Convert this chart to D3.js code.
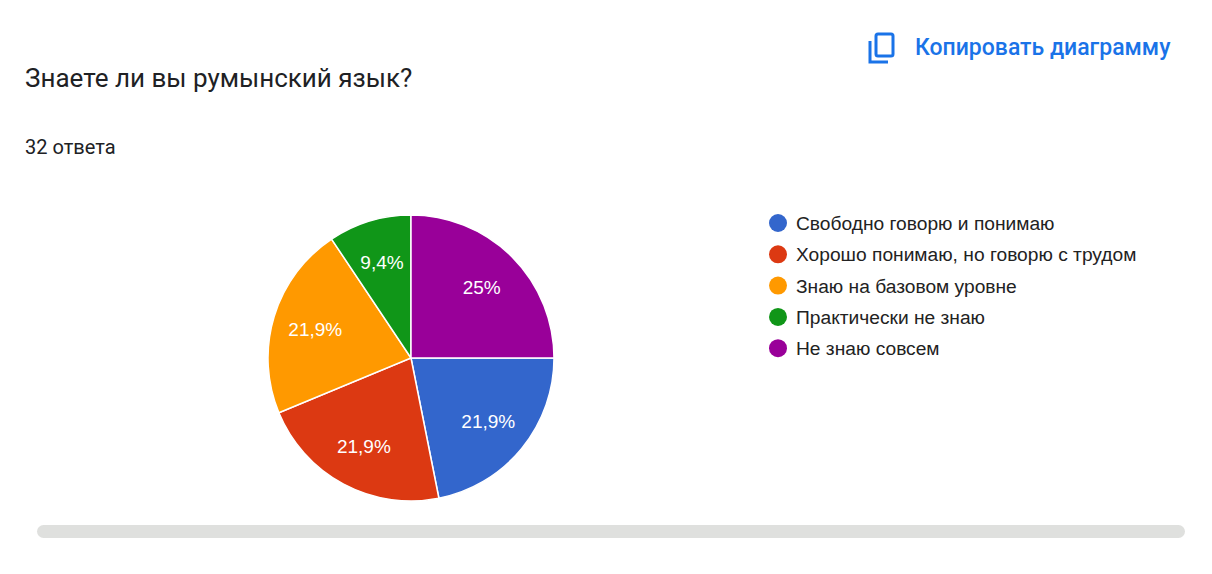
<!DOCTYPE html>
<html>
<head>
<meta charset="utf-8">
<script src="https://cdn.jsdelivr.net/npm/d3@7"></script>
<style>
  html, body { margin: 0; padding: 0; background: #fff; }
  svg { display: block; }
</style>
</head>
<body>
<div id="chart"></div>
<script>
(function () {
    'use strict';

    // ── data ──────────────────────────────────────────────────────────────
    const categories = [
        'Свободно говорю и понимаю',
        'Хорошо понимаю, но говорю с трудом',
        'Знаю на базовом уровне',
        'Практически не знаю',
        'Не знаю совсем'
    ];
    const counts = [7, 7, 7, 3, 8];
    const sliceLabels = ['21,9%', '21,9%', '21,9%', '9,4%', '25%'];
    const colors = ['#3366cc', '#dc3912', '#ff9900', '#109618', '#990099'];

    const title = 'Знаете ли вы румынский язык?';
    const subtitle = '32 ответа';
    const copyText = 'Копировать диаграмму';

    const W = 1212, H = 574;
    const cx = 411, cy = 358, R = 143;

    const svg = d3.select('#chart').append('svg')
        .attr('width', W).attr('height', H);

    // ── header ────────────────────────────────────────────────────────────
    svg.append('text')
        .attr('x', 25).attr('y', 87)
        .style('font-family', 'Roboto, sans-serif')
        .style('font-size', '26px')
        .style('fill', '#202124')
        .text(title);

    svg.append('text')
        .attr('x', 25).attr('y', 154)
        .style('font-family', 'Roboto, sans-serif')
        .style('font-size', '20px')
        .style('fill', '#202124')
        .text(subtitle);

    // copy icon
    const icon = svg.append('g').attr('fill', 'none')
        .attr('stroke', '#1a73e8').attr('stroke-width', 3);
    icon.append('rect')
        .attr('x', 876).attr('y', 34).attr('width', 17).attr('height', 22)
        .attr('rx', 2);
    icon.append('path')
        .attr('d', 'M870,41 V62 H888');

    svg.append('text')
        .attr('x', 915).attr('y', 55)
        .style('font-family', 'Roboto, sans-serif')
        .style('font-weight', 500)
        .style('font-size', '23px')
        .style('fill', '#1a73e8')
        .text(copyText);

    // ── pie ───────────────────────────────────────────────────────────────
    const pie = d3.pie().sort(null)
        .startAngle(Math.PI / 2)
        .endAngle(Math.PI / 2 + 2 * Math.PI);
    const arcs = pie(counts);

    const arc = d3.arc().innerRadius(0).outerRadius(R);
    const labelArc = d3.arc().innerRadius(100).outerRadius(100);

    const g = svg.append('g').attr('transform', `translate(${cx},${cy})`);

    g.selectAll('path')
        .data(arcs)
        .enter()
        .append('path')
        .attr('d', arc)
        .attr('fill', (d, i) => colors[i])
        .attr('stroke', '#fff')
        .attr('stroke-width', 1.5);

    g.selectAll('text')
        .data(arcs)
        .enter()
        .append('text')
        .attr('transform', d => {
            const c = labelArc.centroid(d);
            return `translate(${c[0]},${c[1]})`;
        })
        .attr('dy', '0.36em')
        .attr('text-anchor', 'middle')
        .style('font-family', 'Arial, "Liberation Sans", sans-serif')
        .style('font-size', '19px')
        .style('fill', '#fff')
        .text((d, i) => sliceLabels[i]);

    // ── legend ────────────────────────────────────────────────────────────
    const legend = svg.append('g')
        .selectAll('g')
        .data(categories)
        .enter()
        .append('g')
        .attr('transform', (d, i) => `translate(778,${223 + i * 31.3})`);

    legend.append('circle')
        .attr('r', 9)
        .attr('fill', (d, i) => colors[i]);

    legend.append('text')
        .attr('x', 18)
        .attr('dy', '0.36em')
        .style('font-family', 'Arial, "Liberation Sans", sans-serif')
        .style('font-size', '19.2px')
        .style('fill', '#222')
        .text(d => d);

    // ── scrollbar ─────────────────────────────────────────────────────────
    svg.append('rect')
        .attr('x', 37).attr('y', 525)
        .attr('width', 1148).attr('height', 13)
        .attr('rx', 6.5)
        .attr('fill', '#dfe0de');
})();
</script>
</body>
</html>
